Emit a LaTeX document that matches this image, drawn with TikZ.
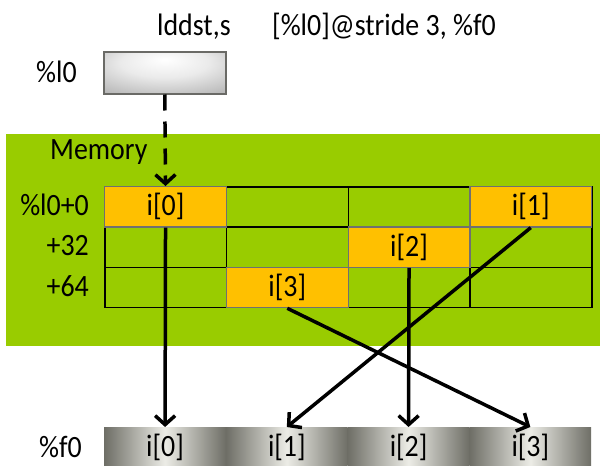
\documentclass[tikz,border=0pt]{standalone}
\usepackage{fontspec}
\setmainfont{Carlito}[FakeStretch=0.9]
\usetikzlibrary{arrows.meta}

\definecolor{memgreen}{HTML}{99CC00}
\definecolor{slotorange}{HTML}{FFC000}
\definecolor{slotedge}{HTML}{707070}
\definecolor{regedge}{HTML}{6A6A66}
\definecolor{regdark}{HTML}{6E6E66}
\definecolor{reglight}{HTML}{ECECE6}

% highlight near the top centre of the address register
\pgfdeclareradialshading{addrshade}{\pgfpoint{0bp}{16bp}}{%
  color(0bp)=(white);
  color(18bp)=(white!92!black);
  color(42bp)=(white!70!black);
  color(60bp)=(white!56!black);
  color(80bp)=(white!48!black)}

\begin{document}
\begin{tikzpicture}[x=1pt,y=-1pt,
  font=\fontsize{31}{34}\selectfont,
  txt/.style={inner sep=0pt},
  memcell/.style={draw=black, line width=1.5pt, fill=memgreen,
    anchor=north west, minimum width=121.75pt, minimum height=40.33pt,
    inner sep=0pt},
  slotcell/.style={memcell, fill=slotorange, draw=slotedge, line width=1.3pt},
  fcell/.style={anchor=north west, minimum width=121.75pt, minimum height=40pt,
    inner sep=0pt, left color=regdark, right color=regdark, middle color=reglight},
  addrreg/.style={anchor=north west, minimum width=122pt, minimum height=42pt,
    inner sep=0pt, draw=regedge, line width=1.5pt, shading=addrshade},
  flow/.style={line width=3.5pt, -{Straight Barb[length=9pt,width=20pt]}},
  dashflow/.style={flow, dash pattern=on 16pt off 11pt}]

\useasboundingbox (0,0) rectangle (600,466);

% instruction
\node[txt, anchor=base west] (op) at (157,35) {lddst,s};
\node[txt, anchor=base west] (args) at (272,35) {[\%l0]@stride 3, \%f0};

% address register
\node[txt, anchor=base west] (l0lab) at (36,82) {\%l0};
\node[addrreg] (l0) at (103,51) {};

% memory area
\node[fill=memgreen, anchor=north west, minimum width=594pt, minimum height=212pt,
  inner sep=0pt] (mem) at (6,134) {};
\node[txt, anchor=base west] (memlab) at (50,159) {Memory};

\foreach \r in {0,1,2}
  \foreach \c in {0,1,2,3}
    \node[memcell] (m-\r-\c) at ({104+121.75*\c},{186+40.33*\r}) {};

\node[slotcell] (i0) at (m-0-0.north west) {i[0]};
\node[slotcell] (i1) at (m-0-3.north west) {i[1]};
\node[slotcell] (i2) at (m-1-2.north west) {i[2]};
\node[slotcell] (i3) at (m-2-1.north west) {i[3]};

\node[txt, anchor=base east] (off0) at (89,215) {\%l0+0};
\node[txt, anchor=base east] (off1) at (89,255.5) {+32};
\node[txt, anchor=base east] (off2) at (89,296) {+64};

% destination register
\node[txt, anchor=base west] (f0lab) at (39,457) {\%f0};
\foreach \c in {0,1,2,3}
  \node[fcell] (f-\c) at ({104+121.75*\c},427) {i[\c]};

% data movement
\draw[dashflow] (l0.south) -- (i0.north);
\draw[flow] (i0.south) -- (f-0.north);
\draw[flow] (i1.south) -- (f-1.north);
\draw[flow] (i2.south) -- (f-2.north);
\draw[flow] (i3.south) -- (f-3.north);
\end{tikzpicture}
\end{document}
